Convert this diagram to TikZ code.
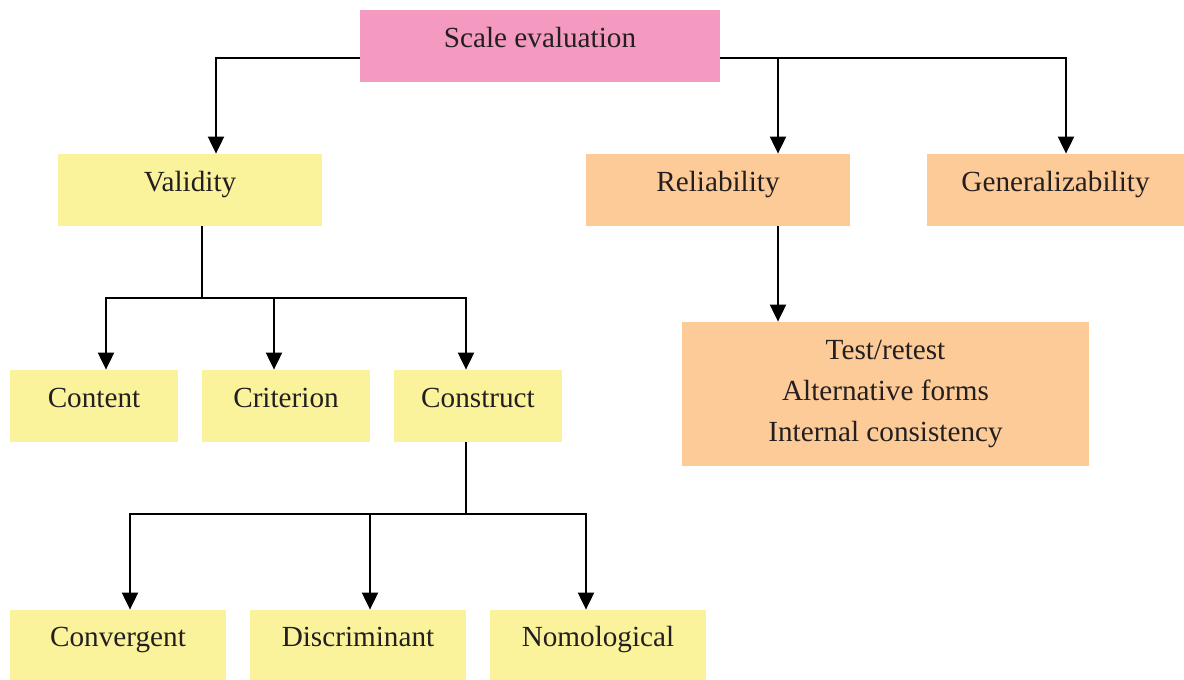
\documentclass[tikz,border=0pt]{standalone}
\usepackage{fontspec}
\setmainfont{Liberation Serif}
\usetikzlibrary{arrows.meta}
\RequirePackage{xcolor}
\definecolor{SEpink}{HTML}{F49AC1}
\definecolor{SEyellow}{HTML}{FAF39C}
\definecolor{SEorange}{HTML}{FDCB97}
\definecolor{SEtext}{HTML}{231F20}

\begin{document}
\begin{tikzpicture}[x=0.5pt,y=-0.5pt,
  box/.style={inner sep=0pt,text=SEtext,font=\fontsize{14.6}{20}\selectfont,
    text height=18.5pt,text depth=17.5pt},
  arr/.style={-{Triangle[width=8pt,length=8.5pt]},line width=1pt}]

\useasboundingbox (0,0) rectangle (1184,680);

% Top
\node[box,fill=SEpink,minimum width=180pt] (scale) at (540,46) {Scale evaluation};

% Second row
\node[box,fill=SEyellow,minimum width=132pt] (validity) at (190,190) {Validity};
\node[box,fill=SEorange,minimum width=132pt] (reliability) at (718,190) {Reliability};
\node[box,fill=SEorange,minimum width=128.5pt] (general) at (1055.5,190) {Generalizability};

% Validity types
\node[box,fill=SEyellow,minimum width=84pt] (content) at (94,406) {Content};
\node[box,fill=SEyellow,minimum width=84pt] (criterion) at (286,406) {Criterion};
\node[box,fill=SEyellow,minimum width=84pt] (construct) at (478,406) {Construct};

% Reliability types
\node[inner sep=0pt,text=SEtext,font=\fontsize{14.6}{20.5}\selectfont,align=center,
  fill=SEorange,minimum width=203.5pt,minimum height=72pt] (tests) at (885.5,394)
  {Test/retest\\Alternative forms\\Internal consistency};

% Construct types
\node[box,fill=SEyellow,minimum width=108pt,text height=18pt,text depth=17pt] (convergent) at (118,645) {Convergent};
\node[box,fill=SEyellow,minimum width=108pt,text height=18pt,text depth=17pt] (discriminant) at (358,645) {Discriminant};
\node[box,fill=SEyellow,minimum width=108pt,text height=18pt,text depth=17pt] (nomological) at (598,645) {Nomological};

% Arrows from the top
\coordinate (relarrow) at ([xshift=30pt]reliability.north);
\draw[arr] ([yshift=-6pt]scale.west) -| ([xshift=13pt]validity.north);
\draw[arr] ([yshift=-6pt]scale.east) -| ([xshift=5.25pt]general.north);
\draw[arr] ([yshift=-6pt]scale.east -| relarrow) -- (relarrow);
\draw[arr] (relarrow |- reliability.south) -- (relarrow |- tests.north);

% Validity branches
\draw[line width=1pt] ([xshift=6pt]validity.south) -- ([xshift=6pt,yshift=-36pt]validity.south) coordinate (vjoin);
\draw[arr] (vjoin) -| ([xshift=6pt]content.north);
\draw[arr] (vjoin) -| ([xshift=-6pt]criterion.north);
\draw[arr] (vjoin) -| ([xshift=-6pt]construct.north);

% Construct branches
\draw[line width=1pt] ([xshift=-6pt]construct.south) -- ([xshift=-6pt,yshift=-36pt]construct.south) coordinate (cjoin);
\draw[arr] (cjoin) -| ([xshift=6pt]convergent.north);
\draw[arr] (cjoin) -| ([xshift=6pt]discriminant.north);
\draw[arr] (cjoin) -| ([xshift=-6pt]nomological.north);

\end{tikzpicture}
\end{document}
